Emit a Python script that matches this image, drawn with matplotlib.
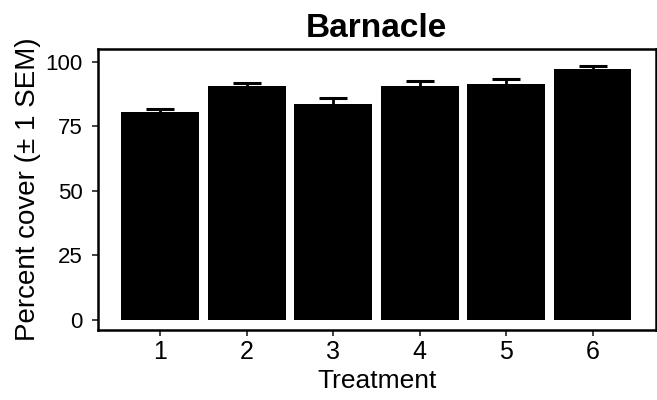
import matplotlib
matplotlib.use('Agg')
import matplotlib.pyplot as plt
import numpy as np

plt.rcParams['font.family'] = ['Liberation Sans', 'DejaVu Sans']

# Barnacle percent cover by treatment (mean and SEM)
treatments = ['1', '2', '3', '4', '5', '6']
cover = [80.3, 90.7, 83.7, 90.7, 91.4, 97.0]
sem = [1.5, 0.9, 2.4, 1.8, 1.7, 1.2]

fig = plt.figure(figsize=(6.57, 4.0), dpi=100)
ax = fig.add_axes([0.149, 0.175, 0.849, 0.702])

x = np.arange(1, len(treatments) + 1)
ax.bar(x, cover, width=0.9, color='black', zorder=2)
ax.errorbar(x, cover, yerr=sem, fmt='none', ecolor='black',
            elinewidth=2, capsize=10, capthick=2.2, zorder=3)

ax.set_xlim(0.28, 6.73)
ax.set_ylim(-3.9, 104.8)
ax.set_xticks(x)
ax.set_xticklabels(treatments)
ax.set_yticks([0, 25, 50, 75, 100])

for s in ax.spines.values():
    s.set_linewidth(1.8)
    s.set_color('black')

ax.tick_params(axis='x', labelsize=18, length=4, width=1.3, color='#333333', pad=3)
ax.tick_params(axis='y', labelsize=16, length=4, width=1.3, color='#333333', pad=7)

ax.set_title('Barnacle', fontsize=24, fontweight='bold', pad=9)
ax.set_xlabel('Treatment', fontsize=19, labelpad=4)
ax.set_ylabel('Percent cover (± 1 SEM)', fontsize=20, labelpad=3)

fig.savefig('out.png', dpi=100)
